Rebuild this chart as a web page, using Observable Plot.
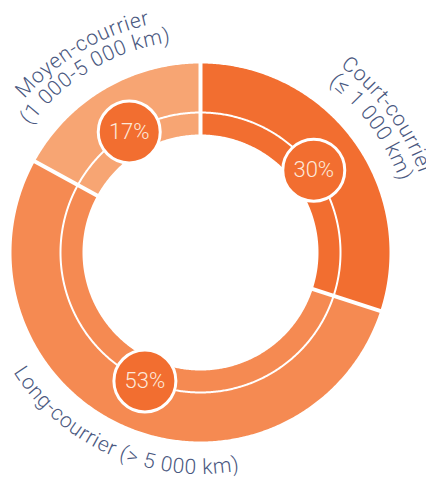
<!DOCTYPE html>
<html><head><meta charset="utf-8">
<script src="https://cdn.jsdelivr.net/npm/d3@7"></script>
<script src="https://cdn.jsdelivr.net/npm/@observablehq/plot@0.6"></script>
<style>body{margin:0;background:#fff;} #chart svg{overflow:hidden;display:block}</style>
</head><body><div id="chart"></div>
<script>
// ---- data ----
const categories = ["Court-courrier", "Long-courrier", "Moyen-courrier"];
const labelLine1 = ["Court-courrier", "Long-courrier (> 5 000 km)", "Moyen-courrier"];
const labelLine2 = ["(≤ 1 000 km)", "", "(1 000-5 000 km)"];
const shares = [30, 53, 17];
const shareLabels = ["30%", "53%", "17%"];
const colors = ["#F26E30", "#F58A52", "#F7A573"];

// ---- layout ----
const W = 426, H = 479, CX = 200, CY = 252;
const R_OUT = 189, R_MID = 140, R_IN = 118;
const R_LAB1 = 233, R_LAB2 = 212, R_LAB_BOTTOM = 222;
const FONT = "Roboto, 'Liberation Sans', sans-serif";
const LABEL_COLOR = "#4A5880";
const LABEL_SIZE = 21;

const total = d3.sum(shares);
let acc = 0;
const segs = categories.map((c, i) => {
  const a0 = acc / total * 360; acc += shares[i];
  const a1 = acc / total * 360;
  return {i, cat: c, a0, a1, mid: (a0 + a1) / 2, share: shares[i], label: shareLabels[i], color: colors[i]};
});
const rad = d => d * Math.PI / 180;
const px = (r, a) => r * Math.sin(rad(a));
const py = (r, a) => -r * Math.cos(rad(a));

function arcPoly(s) {
  const pts = [];
  const n = Math.max(2, Math.ceil((s.a1 - s.a0) / 0.5));
  for (let k = 0; k <= n; k++) { const a = s.a0 + (s.a1 - s.a0) * k / n; pts.push({x: px(R_OUT, a), y: py(R_OUT, a)}); }
  for (let k = n; k >= 0; k--) { const a = s.a0 + (s.a1 - s.a0) * k / n; pts.push({x: px(R_IN, a), y: py(R_IN, a)}); }
  return pts;
}
const ringLine = d3.range(0, 361, 0.5).map(a => ({x: px(R_MID, a), y: py(R_MID, a)}));
const seps = segs.map(s => ({x1: px(R_IN - 3, s.a0), y1: py(R_IN - 3, s.a0), x2: px(R_OUT + 3, s.a0), y2: py(R_OUT + 3, s.a0)}));
const centers = segs.map(s => ({...s, x: px(R_MID, s.mid), y: py(R_MID, s.mid)}));

const plot = Plot.plot({
  width: W, height: H, margin: 0,
  x: {domain: [-CX, W - CX], range: [0, W], axis: null},
  y: {domain: [-CY, H - CY], range: [0, H], axis: null},
  marks: [
    ...segs.map(s => Plot.line(arcPoly(s), {x: "x", y: "y", fill: s.color, stroke: "none", curve: "linear-closed"})),
    Plot.line(ringLine, {x: "x", y: "y", stroke: "white", strokeWidth: 2}),
    Plot.link(seps, {x1: "x1", y1: "y1", x2: "x2", y2: "y2", stroke: "white", strokeWidth: 4}),
    Plot.dot(centers, {x: "x", y: "y", r: 31, fill: colors[0], stroke: "white", strokeWidth: 3}),
    Plot.text(centers, {x: "x", y: "y", text: "label", fill: "#FDE8DA", fontSize: 22, fontWeight: 300, fontFamily: FONT})
  ]
});

// curved labels along arcs, positioned with the plot's scales
const sx = plot.scale("x"), sy = plot.scale("y");
const P = (r, a) => [sx.apply(px(r, a)), sy.apply(py(r, a))];
const svg = d3.select(plot);
const defs = svg.append("defs");
const g = svg.append("g").attr("font-family", FONT).attr("font-weight", 300).attr("font-size", LABEL_SIZE)
  .attr("letter-spacing", 0.7).attr("fill", LABEL_COLOR);
segs.forEach((s, i) => {
  const bottom = s.mid > 90 && s.mid < 270;
  const lines = [labelLine1[i], labelLine2[i]].filter(t => t);
  lines.forEach((t, j) => {
    const r = bottom ? R_LAB_BOTTOM + j * 20 : (j === 0 ? R_LAB1 : R_LAB2);
    const rPix = Math.abs(sx.apply(r) - sx.apply(0));
    const [xa, ya] = bottom ? P(r, s.mid + 90) : P(r, s.mid - 90);
    const [xb, yb] = bottom ? P(r, s.mid - 90) : P(r, s.mid + 90);
    const id = `lab-${i}-${j}`;
    defs.append("path").attr("id", id).attr("d", `M${xa},${ya}A${rPix},${rPix} 0 0 ${bottom ? 0 : 1} ${xb},${yb}`);
    g.append("text").append("textPath").attr("href", `#${id}`).attr("startOffset", "50%").attr("text-anchor", "middle").text(t);
  });
});

document.getElementById("chart").append(plot);
</script>
</body></html>
